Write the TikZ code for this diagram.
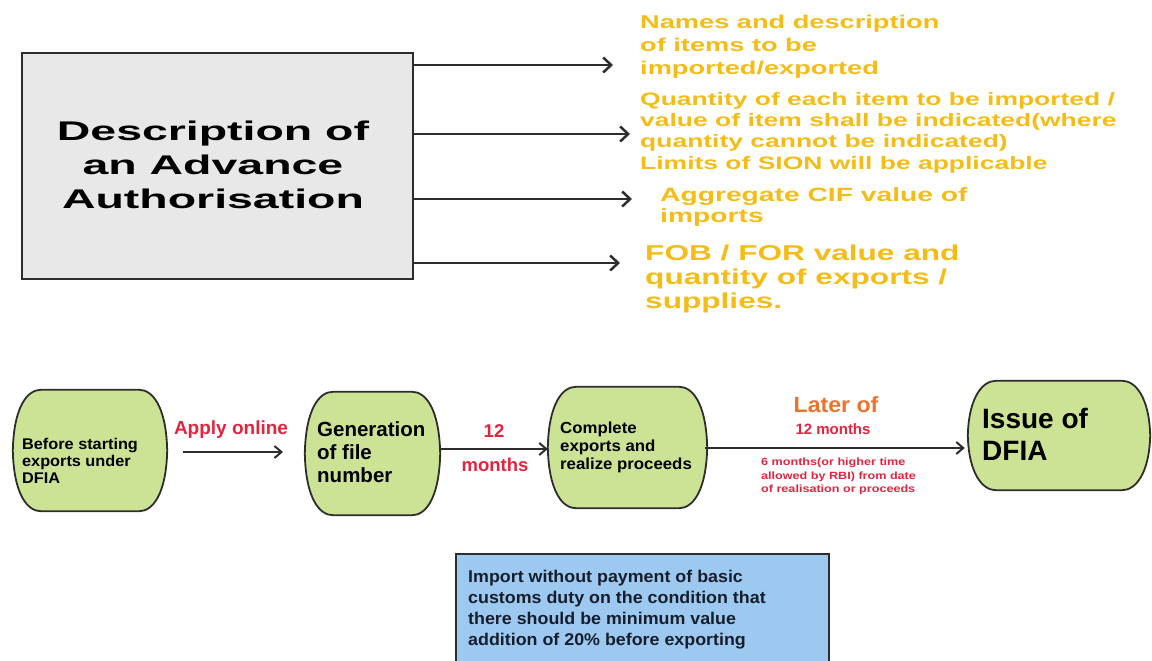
\documentclass[tikz,border=0pt]{standalone}
\usepackage{fontspec}
\setmainfont{Liberation Sans}
\newfontfamily\titlefont[FakeStretch=1.72]{Liberation Sans}
\newfontfamily\notefont[FakeStretch=1.47]{Liberation Sans}
\newfontfamily\stepfont[FakeStretch=1.05]{Liberation Sans}
\newfontfamily\finefont[FakeStretch=1.2]{Liberation Sans}
\usetikzlibrary{arrows.meta,calc}

\definecolor{notegold}{RGB}{244,188,22}
\definecolor{leafgreen}{RGB}{204,226,148}
\definecolor{skyblue}{RGB}{157,201,240}
\definecolor{panelgray}{RGB}{232,232,232}
\definecolor{inkred}{RGB}{226,36,62}
\definecolor{inkorange}{RGB}{233,116,44}
\definecolor{edgeink}{RGB}{45,45,45}
\definecolor{navyink}{RGB}{22,30,45}

% outline of a step: flat top and bottom, gently bulging sides
\newcommand\pilloutline[1]{%
  \draw[pillline]
    ([xshift=18pt]#1.north west) -- ([xshift=-18pt]#1.north east)
    .. controls ([xshift=-5pt]#1.north east) and ([xshift=9pt,yshift=-16pt]#1.north east) .. ([xshift=10pt]#1.east)
    .. controls ([xshift=9pt,yshift=16pt]#1.south east) and ([xshift=-5pt]#1.south east) .. ([xshift=-18pt]#1.south east)
    -- ([xshift=18pt]#1.south west)
    .. controls ([xshift=5pt]#1.south west) and ([xshift=-9pt,yshift=16pt]#1.south west) .. ([xshift=-10pt]#1.west)
    .. controls ([xshift=-9pt,yshift=-16pt]#1.north west) and ([xshift=5pt]#1.north west) .. cycle;}

\begin{document}
\begin{tikzpicture}[x=1pt,y=-1pt,
  panel/.style={draw=edgeink, line width=2.6pt, fill=panelgray, minimum width=391pt, minimum height=226pt, inner sep=0pt},
  titletext/.style={font=\titlefont\bfseries\fontsize{27}{34}\selectfont, align=center, inner sep=0pt, text=black},
  note/.style={text=notegold, align=left, inner sep=0pt, anchor=north west},
  toparrow/.style={draw=edgeink, line width=2.5pt, -{Straight Barb[length=8pt,width=15pt,line width=2.5pt]}},
  flowarrow/.style={draw=edgeink, line width=2pt, -{Straight Barb[length=7pt,width=12pt,line width=2pt]}},
  stepbox/.style={draw=none, inner sep=0pt, minimum width=#1},
  pillline/.style={draw=edgeink, line width=1.8pt, fill=leafgreen},
  steptext/.style={inner sep=0pt, anchor=north west, align=left, text=black},
  redlabel/.style={inner sep=0pt, text=inkred},
  notebox/.style={draw=edgeink, line width=1.6pt, fill=skyblue, inner sep=0pt, anchor=north west}
]
\useasboundingbox (0,0) rectangle (1152,661);

% ---------- upper part: contents of an authorisation ----------
\node[panel] (auth) at (217.5,166) {};
\node[titletext, anchor=north] (authtext) at (213,120.5)
  {Description of\\an Advance\\Authorisation};

\node[note, font=\notefont\bfseries\fontsize{18.5}{23}\selectfont] (n1) at (640,15)
  {Names and description\\of items to be\\imported/exported};
\node[note, font=\notefont\bfseries\fontsize{18}{21.3}\selectfont] (n2) at (640,92)
  {Quantity of each item to be imported /\\value of item shall be indicated(where\\quantity cannot be indicated)\\Limits of SION will be applicable};
\node[note, font=\notefont\bfseries\fontsize{19.2}{21.5}\selectfont] (n3) at (660,187)
  {Aggregate CIF value of\\imports};
\node[note, font=\notefont\bfseries\fontsize{21.5}{24}\selectfont] (n4) at (645,245)
  {FOB / FOR value and\\quantity of exports /\\supplies.};

\coordinate (a1) at (613,65);
\coordinate (a2) at (630,134);
\coordinate (a3) at (632,199);
\coordinate (a4) at (620,263);
\draw[toparrow] (auth.east |- a1) -- (a1);
\draw[toparrow] (auth.east |- a2) -- (a2);
\draw[toparrow] (auth.east |- a3) -- (a3);
\draw[toparrow] (auth.east |- a4) -- (a4);

% ---------- lower part: DFIA flow ----------
\node[stepbox=134pt, minimum height=121pt] (s1) at (90,450.5) {};
\node[stepbox=115pt, minimum height=123pt] (s2) at (372.5,453.5) {};
\node[stepbox=139pt, minimum height=121pt] (s3) at (627.5,447.5) {};
\node[stepbox=162pt, minimum height=109pt] (s4) at (1059,435.5) {};
\pilloutline{s1}
\pilloutline{s2}
\pilloutline{s3}
\pilloutline{s4}

\node[steptext, font=\stepfont\bfseries\fontsize{15.5}{17}\selectfont] (t1) at (22,438.3)
  {Before starting\\exports under\\DFIA};
\node[steptext, font=\bfseries\fontsize{20.5}{23}\selectfont] (t2) at (317,421.3)
  {Generation\\of file\\number};
\node[steptext, font=\stepfont\bfseries\fontsize{16}{18}\selectfont] (t3) at (560,421.5)
  {Complete\\exports and\\realize proceeds};
\node[steptext, font=\bfseries\fontsize{28}{32}\selectfont] (t4) at (982,407.8)
  {Issue of\\DFIA};

\coordinate (f1) at (183,452);
\coordinate (f2) at (283,452);
\draw[flowarrow] (f1) -- (f2);
\draw[flowarrow] ([xshift=10pt]s2.east |- 0,449) -- ([xshift=-10pt]s3.west |- 0,449);
\draw[flowarrow] ([xshift=8pt]s3.east |- 0,448) -- ([xshift=-13pt]s4.west |- 0,448);

\node[redlabel, font=\bfseries\fontsize{19}{19}\selectfont] (l1) at (231,430) {Apply online};
\node[redlabel, font=\bfseries\fontsize{18.5}{18.5}\selectfont] (l2) at (494,431) {12};
\node[redlabel, font=\bfseries\fontsize{18.5}{18.5}\selectfont] (l3) at (495,465) {months};
\node[inner sep=0pt, text=inkorange, anchor=base, font=\stepfont\bfseries\fontsize{22}{22}\selectfont] (l4) at (836,412.7) {Later of};
\node[redlabel, anchor=base, font=\bfseries\fontsize{15}{15}\selectfont] (l5) at (833,434) {12 months};
\node[redlabel, anchor=north west, align=left, font=\finefont\bfseries\fontsize{10.5}{13.4}\selectfont] (l6) at (761,458)
  {6 months(or higher time\\allowed by RBI) from date\\of realisation or proceeds};

% ---------- condition box ----------
\node[notebox, minimum width=373pt, minimum height=150pt] (cond) at (455,553) {};
\node[steptext, text=navyink, font=\stepfont\bfseries\fontsize{17}{21}\selectfont] (condtext) at (468,569.5)
  {Import without payment of basic\\customs duty on the condition that\\there should be minimum value\\addition of 20\% before exporting};
\end{tikzpicture}
\end{document}
